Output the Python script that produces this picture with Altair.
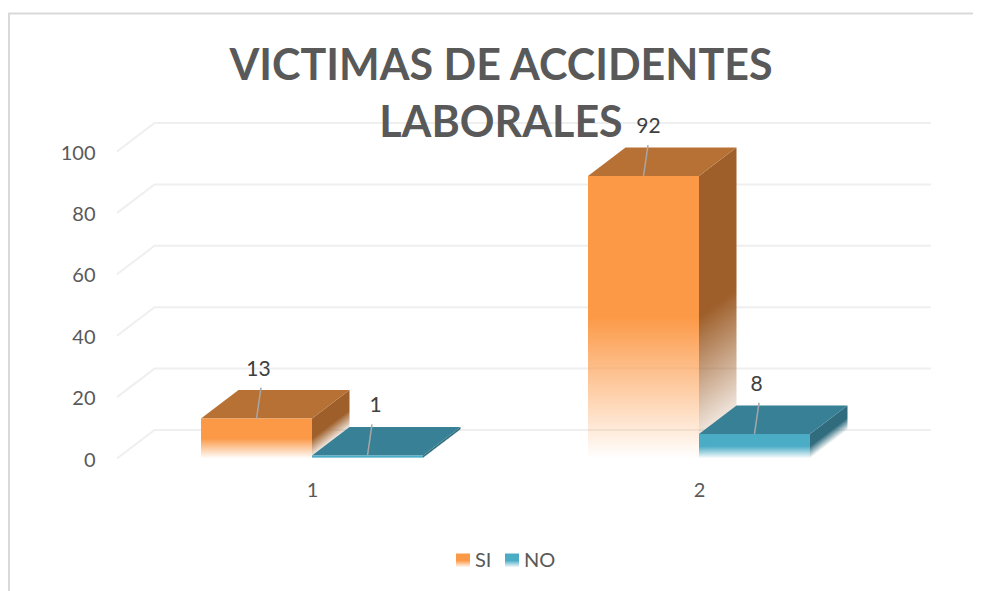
import altair as alt
import pandas as pd

# ---- data
categories = [1, 2]
series = ["SI", "NO"]
si_values = [13, 92]
no_values = [1, 8]
y_ticks = [0, 20, 40, 60, 80, 100]
title_lines = ["VICTIMAS DE ACCIDENTES", "LABORALES"]

# ---- layout (pixels of the plot area and their data-unit equivalents)
PLOT_W, PLOT_H = 814, 307
PX_PER_X = 387.0
PX_PER_Y = PLOT_H / 100.0
X_DOMAIN = [1 - 195 / PX_PER_X, 1 + (814 - 195) / PX_PER_X]
BAR_W = 111 / PX_PER_X
DEPTH_X = 37.5 / PX_PER_X
DEPTH_Y = 28.5 / PX_PER_Y
LEADER_X = 4.5 / PX_PER_X
LEADER_Y = 31 / PX_PER_Y
LABEL_Y = 49 / PX_PER_Y
FONT = "Lato"

FRONT = {"SI": "252,153,71", "NO": "75,172,198"}
TOP = {"SI": "#b87134", "NO": "#388095"}
SIDE = {"SI": "158,95,42", "NO": "48,108,126"}
LABEL_NUDGE = {(1, "SI"): 2, (1, "NO"): 8, (2, "SI"): 5, (2, "NO"): 2}

xs = alt.Scale(domain=X_DOMAIN, nice=False, zero=False)
ys = alt.Scale(domain=[0, 100], nice=False, zero=False)
XAX = alt.Axis(values=categories, format="d", title=None, grid=False, domain=False, ticks=False,
               labelPadding=22, labelFontSize=20, labelColor="#595959", labelFont=FONT)
YAX = alt.Axis(values=y_ticks, title=None, grid=False, domain=False, ticks=False,
               labelPadding=22, labelOffset=1.5, labelFontSize=20, labelColor="#595959", labelFont=FONT)
NOX = alt.X("x:Q", scale=xs, axis=XAX)
NOY = alt.Y("y:Q", scale=ys, axis=YAX)


def front_expr(rgb):
    return {"expr": "{gradient:'linear',x1:0,y1:0,x2:0,y2:1,stops:["
            f"{{offset:0.5,color:'rgb({rgb})'}},"
            f"{{offset:1,color:'rgba({rgb},0)'}}]}}"}


color_scale = alt.Scale(domain=series, range=[front_expr(FRONT[s]) for s in series])


def side_gradient(rgb, height_px):
    a = 28.5 / (height_px + 28.5)
    end = 1 / (a * a + 1)
    start = a * end
    return alt.LinearGradient(
        gradient="linear", x1=0, y1=0, x2=a, y2=1,
        stops=[alt.GradientStop(color=f"rgb({rgb})", offset=start + 0.5 * (end - start)),
               alt.GradientStop(color=f"rgba({rgb},0)", offset=end)])


layers = []

# frame
layers.append(alt.Chart(alt.Data(values=[{"a": 0}])).mark_rule(color="#d9d9d9", strokeWidth=2)
              .encode(x=alt.value(-108), y=alt.value(-138), y2=alt.value(450)))
layers.append(alt.Chart(alt.Data(values=[{"a": 0}])).mark_rule(color="#d9d9d9", strokeWidth=2)
              .encode(x=alt.value(-109), x2=alt.value(870), y=alt.value(-138)))

# gridlines running along the floor and the back wall
grid_rows = []
for t in y_ticks:
    grid_rows += [{"t": t, "x": X_DOMAIN[0], "y": t},
                  {"t": t, "x": X_DOMAIN[0] + DEPTH_X, "y": t + DEPTH_Y},
                  {"t": t, "x": X_DOMAIN[1], "y": t + DEPTH_Y}]
layers.append(alt.Chart(pd.DataFrame(grid_rows)).mark_line(color="#efefef", strokeWidth=2).encode(
    x=NOX, y=NOY, detail="t:N", order="x:Q"))

values = {"SI": si_values, "NO": no_values}
text_layers = []
for ci, c in enumerate(categories):
    for s in series:
        v = values[s][ci]
        left = c - BAR_W if s == "SI" else c
        right = left + BAR_W
        # side face
        side = pd.DataFrame([{"x": right, "y": v, "y0": 0},
                             {"x": right + DEPTH_X, "y": v + DEPTH_Y, "y0": DEPTH_Y}])
        layers.append(alt.Chart(side).mark_area(color=side_gradient(SIDE[s], v * PX_PER_Y)).encode(
            x=NOX, y=NOY, y2="y0:Q"))
        # top face
        top = pd.DataFrame([{"y": v, "x": left, "x1": right},
                            {"y": v + DEPTH_Y, "x": left + DEPTH_X, "x1": right + DEPTH_X}])
        layers.append(alt.Chart(top).mark_area(orient="horizontal", color=TOP[s]).encode(
            y=NOY, x=NOX, x2="x1:Q"))
        # front face, carries the legend
        front = pd.DataFrame([{"x": left, "x1": right, "y": v, "y0": 0, "serie": s}])
        layers.append(alt.Chart(front).mark_rect().encode(
            x=NOX, x2="x1:Q", y=NOY, y2="y0:Q",
            color=alt.Color("serie:N", scale=color_scale, sort=series, legend=alt.Legend(
                title=None, orient="none", legendX=336, legendY=399, direction="horizontal", columns=2,
                symbolType="square", symbolSize=196, labelFontSize=20, labelColor="#595959", labelFont=FONT,
                labelOffset=2, columnPadding=10, symbolStrokeWidth=0))))
        # leader line and value label
        mid = (left + right) / 2
        leader = pd.DataFrame([{"x": mid, "y": v, "x1": mid + LEADER_X, "y1": v + LEADER_Y}])
        text_layers.append(alt.Chart(leader).mark_rule(color="#a6a6a6", strokeWidth=1.5).encode(
            x=NOX, y=NOY, x2="x1:Q", y2="y1:Q"))
        label = pd.DataFrame([{"x": mid, "y": v + LABEL_Y, "t": str(v)}])
        text_layers.append(alt.Chart(label).mark_text(
            fontSize=21, font=FONT, color="#404040", dx=LABEL_NUDGE[(c, s)]).encode(x=NOX, y=NOY, text="t:N"))

chart = alt.layer(*layers, *text_layers).properties(
    width=PLOT_W, height=PLOT_H,
    autosize=alt.AutoSizeParams(type="none"),
    padding={"left": 109, "top": 143.5, "right": 42, "bottom": 132.5},
    title=alt.TitleParams(text=title_lines, font=FONT, fontSize=43, fontWeight="bold", color="#595959",
                          anchor="middle", dx=-23, offset=-133, lineHeight=57),
).configure_view(stroke=None)

chart.save("out.html", embed_options={"renderer": "svg", "actions": False})
